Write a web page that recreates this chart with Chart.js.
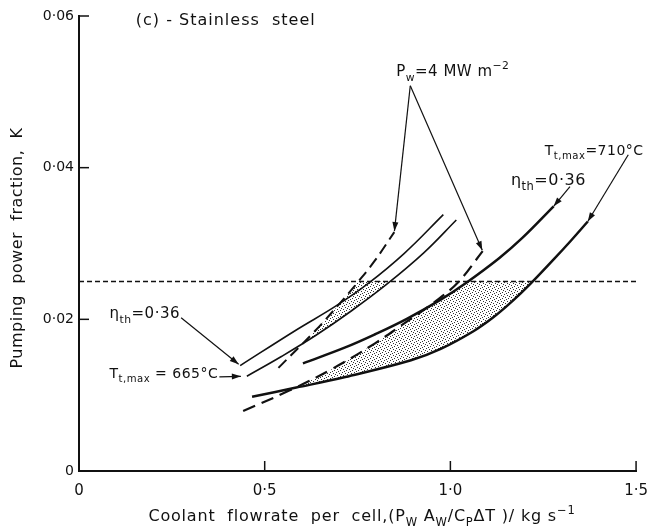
<!DOCTYPE html>
<html>
<head>
<meta charset="utf-8">
<script src="https://cdn.jsdelivr.net/npm/chart.js@4.4.0/dist/chart.umd.min.js"></script>
<style>
  html, body { margin: 0; padding: 0; background: #fff; }
  #wrap { width: 659px; height: 528px; position: relative; }
</style>
</head>
<body>
<div id="wrap"><canvas id="chart"></canvas></div>
<script>
// coolant flowrate per cell (kg/s) against pumping power fraction K
const flowEtaLeft = [0.434, 0.585, 0.690, 0.778, 0.876, 0.981];
const kEtaLeft    = [0.0139, 0.0186, 0.0217, 0.0247, 0.0287, 0.0338];

const flowT665 = [0.452, 0.545, 0.638, 0.733, 0.828, 0.929, 1.016];
const kT665    = [0.0125, 0.0151, 0.0179, 0.0211, 0.0246, 0.0288, 0.0331];

const flowPwLeft = [0.537, 0.638, 0.704, 0.749, 0.796, 0.849];
const kPwLeft    = [0.0136, 0.0186, 0.0222, 0.0248, 0.0277, 0.0315];

const flowEtaRight = [0.603, 0.717, 0.796, 0.884, 0.974, 1.042, 1.132, 1.193, 1.278];
const kEtaRight    = [0.0142, 0.0163, 0.0180, 0.0201, 0.0226, 0.0248, 0.0281, 0.0307, 0.0349];

const flowT710 = [0.466, 0.585, 0.717, 0.894, 0.974, 1.061, 1.114, 1.167, 1.212, 1.280, 1.325, 1.370];
const kT710    = [0.0098, 0.0110, 0.0124, 0.0146, 0.0161, 0.0184, 0.0202, 0.0224, 0.0245, 0.0280, 0.0304, 0.0329];

const flowPwRight = [0.442, 0.566, 0.683, 0.796, 0.868, 0.955, 1.021, 1.087];
const kPwRight    = [0.0079, 0.0106, 0.0135, 0.0168, 0.0192, 0.0222, 0.0249, 0.0290];

const kLimit = 0.025;
const xTicks = [0, 0.5, 1.0, 1.5];
const yTicks = [0, 0.02, 0.04, 0.06];

const FONT = '"DejaVu Sans"';
const INK = '#111';

const toPts = (xs, ys) => xs.map((x, i) => ({ x: x, y: ys[i] }));
const curve = (xs, ys, w, dash) => ({
  data: toPts(xs, ys),
  borderColor: INK,
  borderWidth: w,
  borderDash: dash || [],
  pointRadius: 0,
  fill: false,
  tension: 0.4
});

// small dot texture for the shaded zones
const dots = document.createElement('canvas');
dots.width = 6; dots.height = 6;
(function () {
  const g = dots.getContext('2d');
  g.fillStyle = '#333';
  [[0, 0], [3, 1], [5, 2], [1, 3], [4, 4], [2, 5]].forEach(p => g.fillRect(p[0], p[1], 1, 1));
})();

// stippled region: below the K limit, above the lower curve, below every upper curve
const shading = {
  id: 'shading',
  beforeDatasetsDraw(chart) {
    const { ctx, chartArea: a } = chart;
    const yCap = chart.scales.y.getPixelForValue(kLimit);
    const line = i => {
      const l = chart.getDatasetMeta(i).dataset;
      l.updateControlPoints(a, 'x');
      return l;
    };
    const clipBy = (l, tail) => {
      const p = l.points;
      ctx.beginPath();
      l.path(ctx);
      tail(p[0], p[p.length - 1]).forEach(q => ctx.lineTo(q[0], q[1]));
      ctx.closePath();
      ctx.clip();
    };
    const aboveOf = (f, e) => [[a.right, e.y], [a.right, a.top], [a.left, a.top], [a.left, f.y]];
    const belowOf = (f, e) => [[a.right, e.y], [a.right, a.bottom], [a.left, a.bottom], [a.left, a.top], [f.x, a.top]];
    const belowStub = (f, e) => [[e.x, a.top], [a.right, a.top], [a.right, a.bottom], [f.x, a.bottom]];
    const belowCut = (f, e) => [[a.right, e.y], [a.right, a.bottom], [f.x, a.bottom]];

    const zones = [
      { lower: 1, upper: [[2, belowCut]] },
      { lower: 4, upper: [[5, belowStub], [3, belowOf]] }
    ];
    const pat = ctx.createPattern(dots, 'repeat');
    zones.forEach(z => {
      ctx.save();
      ctx.beginPath();
      ctx.rect(a.left, yCap, a.right - a.left, a.bottom - yCap);
      ctx.clip();
      clipBy(line(z.lower), aboveOf);
      z.upper.forEach(u => clipBy(line(u[0]), u[1]));
      ctx.fillStyle = pat;
      ctx.fillRect(a.left, a.top, a.right - a.left, a.bottom - a.top);
      ctx.restore();
    });
  }
};

function rich(ctx, parts, x, y, size, align) {
  const f = m => (m ? size * 0.72 : size) + 'px ' + FONT;
  const ws = parts.map(p => { ctx.font = f(p[1]); return ctx.measureText(p[0]).width; });
  const total = ws.reduce((s, w) => s + w, 0);
  let cx = align === 'center' ? x - total / 2 : x;
  ctx.textAlign = 'left';
  ctx.textBaseline = 'alphabetic';
  parts.forEach((p, i) => {
    ctx.font = f(p[1]);
    const dy = p[1] === 'sub' ? size * 0.32 : p[1] === 'sup' ? -size * 0.45 : 0;
    ctx.fillText(p[0], cx, y + dy);
    cx += ws[i];
  });
}

function arrow(ctx, x1, y1, x2, y2, gap) {
  const ang = Math.atan2(y2 - y1, x2 - x1);
  const ex = x2 - Math.cos(ang) * (gap || 0), ey = y2 - Math.sin(ang) * (gap || 0);
  ctx.beginPath();
  ctx.moveTo(x1, y1);
  ctx.lineTo(ex, ey);
  ctx.stroke();
  ctx.beginPath();
  ctx.moveTo(ex, ey);
  ctx.lineTo(ex - 9 * Math.cos(ang) + 3 * Math.sin(ang), ey - 9 * Math.sin(ang) - 3 * Math.cos(ang));
  ctx.lineTo(ex - 9 * Math.cos(ang) - 3 * Math.sin(ang), ey - 9 * Math.sin(ang) + 3 * Math.cos(ang));
  ctx.closePath();
  ctx.fill();
}

const notes = {
  id: 'notes',
  afterDraw(chart) {
    const { ctx, chartArea: a, scales: { x, y } } = chart;
    const px = v => x.getPixelForValue(v), py = v => y.getPixelForValue(v);
    const end = (i, last) => {
      const pts = chart.getDatasetMeta(i).data;
      const p = last ? pts[pts.length - 1] : pts[0];
      return [p.x, p.y];
    };
    ctx.save();
    ctx.strokeStyle = INK;
    ctx.fillStyle = INK;

    // inward tick marks
    ctx.lineWidth = 1.5;
    yTicks.forEach(v => { ctx.beginPath(); ctx.moveTo(a.left, py(v)); ctx.lineTo(a.left + 10, py(v)); ctx.stroke(); });
    xTicks.forEach(v => { ctx.beginPath(); ctx.moveTo(px(v), a.bottom); ctx.lineTo(px(v), a.bottom - 10); ctx.stroke(); });

    ctx.letterSpacing = '1px';
    rich(ctx, [['(c) - Stainless  steel']], px(0.153), py(0.0588), 16);
    ctx.letterSpacing = '0.5px';
    rich(ctx, [['P'], ['w', 'sub'], ['=4 MW m'], ['\u22122', 'sup']], px(0.854), py(0.0521), 15);
    rich(ctx, [['T'], ['t,max', 'sub'], ['=710\u00b0C']], px(1.254), py(0.0417), 14);
    rich(ctx, [['\u03b7'], ['th', 'sub'], ['=0\u00b736']], px(1.163), py(0.0377), 16);
    rich(ctx, [['\u03b7'], ['th', 'sub'], ['=0\u00b736']], px(0.082), py(0.0202), 15);
    rich(ctx, [['T'], ['t,max', 'sub'], [' = 665\u00b0C']], px(0.082), py(0.0123), 14);

    ctx.lineWidth = 1.2;
    const pw = [px(0.892), py(0.0508)];
    let t = end(2, true); arrow(ctx, pw[0], pw[1], t[0], t[1], 1);
    t = end(5, true); arrow(ctx, pw[0], pw[1], t[0], t[1], 1);
    t = end(4, true); arrow(ctx, px(1.479), py(0.0417), t[0], t[1], 0);
    t = end(3, true); arrow(ctx, px(1.322), py(0.0375), t[0], t[1], 0);
    t = end(0, false); arrow(ctx, px(0.275), py(0.0202), t[0], t[1], 2);
    t = end(1, false); arrow(ctx, px(0.378), py(0.0124), t[0], t[1], 6);

    // axis titles
    ctx.letterSpacing = '0.8px';
    rich(ctx, [['Coolant  flowrate  per  cell,(P'], ['W', 'sub'], [' A'], ['W', 'sub'], ['/C'], ['P', 'sub'], ['\u0394T )/ kg s'], ['\u22121', 'sup']], 362, 521, 16, 'center');
    ctx.letterSpacing = '0.5px';
    ctx.translate(22, 248);
    ctx.rotate(-Math.PI / 2);
    rich(ctx, [['Pumping  power  fraction,  K']], 0, 0, 16, 'center');
    ctx.restore();
  }
};

const fmt = d => v => (v === 0 ? '0' : v.toFixed(d).replace('.', '\u00b7'));

new Chart(document.getElementById('chart'), {
  type: 'line',
  data: {
    datasets: [
      curve(flowEtaLeft, kEtaLeft, 1.6),
      curve(flowT665, kT665, 1.6),
      curve(flowPwLeft, kPwLeft, 2, [11, 6]),
      curve(flowEtaRight, kEtaRight, 2.5),
      curve(flowT710, kT710, 2.5),
      curve(flowPwRight, kPwRight, 2.2, [13, 7]),
      {
        data: [{ x: xTicks[0], y: kLimit }, { x: xTicks[xTicks.length - 1], y: kLimit }],
        borderColor: INK, borderWidth: 1.5, borderDash: [5, 3], pointRadius: 0, fill: false
      }
    ]
  },
  options: {
    responsive: true,
    maintainAspectRatio: false,
    animation: false,
    layout: { padding: { top: 16, right: 13, left: 0, bottom: 0 } },
    plugins: { legend: { display: false }, tooltip: { enabled: false } },
    scales: {
      x: {
        type: 'linear',
        min: 0, max: 1.5,
        afterBuildTicks: s => { s.ticks = xTicks.map(v => ({ value: v })); },
        afterFit: s => { s.height = 57; },
        grid: { display: true, drawOnChartArea: false, drawTicks: false },
        border: { color: INK, width: 2 },
        ticks: { callback: fmt(1), color: INK, padding: 11, maxRotation: 0, font: { family: 'DejaVu Sans', size: 15 } }
      },
      y: {
        min: 0, max: 0.06,
        afterBuildTicks: s => { s.ticks = yTicks.map(v => ({ value: v })); },
        afterFit: s => { s.width = 79; },
        grid: { display: true, drawOnChartArea: false, drawTicks: false },
        border: { color: INK, width: 2 },
        ticks: { callback: fmt(2), color: INK, padding: 5, font: { family: 'DejaVu Sans', size: 14 } }
      }
    }
  },
  plugins: [shading, notes]
});
</script>
</body>
</html>
